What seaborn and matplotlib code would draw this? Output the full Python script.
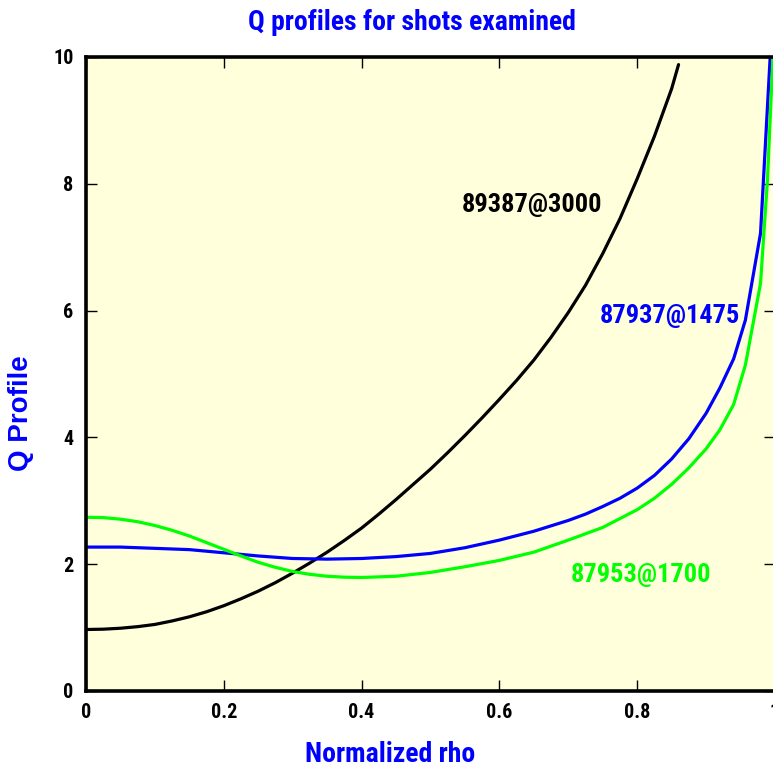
import matplotlib
matplotlib.use("Agg")
import matplotlib.pyplot as plt
from matplotlib import font_manager as fm
import seaborn as sns
import pandas as pd

# q-profile traces: normalized rho vs q
rho_89387 = [0.0, 0.025, 0.05, 0.075, 0.10, 0.125, 0.15, 0.175, 0.20, 0.225,
             0.25, 0.275, 0.30, 0.325, 0.35, 0.375, 0.40, 0.425, 0.45, 0.475,
             0.50, 0.525, 0.55, 0.575, 0.60, 0.625, 0.65, 0.675, 0.70, 0.725,
             0.75, 0.775, 0.80, 0.825, 0.85, 0.86]
q_89387 = [0.97, 0.975, 0.99, 1.015, 1.05, 1.105, 1.17, 1.25, 1.345, 1.455,
           1.575, 1.71, 1.86, 2.02, 2.19, 2.375, 2.57, 2.79, 3.02, 3.26,
           3.50, 3.76, 4.03, 4.31, 4.60, 4.90, 5.22, 5.58, 5.97, 6.40,
           6.90, 7.45, 8.08, 8.75, 9.50, 9.88]

rho_87937 = [0.0, 0.05, 0.10, 0.15, 0.20, 0.25, 0.30, 0.35, 0.40, 0.45, 0.50,
             0.55, 0.60, 0.65, 0.70, 0.725, 0.75, 0.775, 0.80, 0.825, 0.85,
             0.875, 0.90, 0.92, 0.94, 0.957, 0.979, 0.993]
q_87937 = [2.27, 2.27, 2.25, 2.23, 2.18, 2.13, 2.09, 2.08, 2.09, 2.12, 2.17,
           2.26, 2.38, 2.52, 2.69, 2.79, 2.91, 3.04, 3.20, 3.40, 3.66,
           3.98, 4.38, 4.78, 5.24, 5.85, 7.22, 10.0]

rho_87953 = [0.0, 0.025, 0.05, 0.075, 0.10, 0.125, 0.15, 0.175, 0.20, 0.225,
             0.25, 0.275, 0.30, 0.325, 0.35, 0.375, 0.40, 0.45, 0.50, 0.55,
             0.60, 0.65, 0.70, 0.75, 0.80, 0.825, 0.85, 0.875, 0.90, 0.92,
             0.94, 0.957, 0.979, 0.989, 0.997]
q_87953 = [2.74, 2.735, 2.71, 2.67, 2.61, 2.535, 2.445, 2.34, 2.235, 2.13,
           2.03, 1.95, 1.885, 1.84, 1.81, 1.795, 1.79, 1.81, 1.87, 1.96,
           2.06, 2.19, 2.38, 2.58, 2.86, 3.04, 3.26, 3.52, 3.82, 4.12,
           4.52, 5.14, 6.43, 8.05, 10.0]

shot_labels = ["89387@3000", "87937@1475", "87953@1700"]
label_x = [0.545, 0.745, 0.704]
label_y = [7.66, 5.91, 1.83]
shot_colors = ["#000000", "#0000ff", "#00ff00"]

x_ticks = [0, 0.2, 0.4, 0.6, 0.8, 1]
x_ticklabels = ["0", "0.2", "0.4", "0.6", "0.8", "1"]
y_ticks = [0, 2, 4, 6, 8, 10]

sns.set_theme(style="ticks")

# pick a narrow sans face if one is installed
installed = {f.name for f in fm.fontManager.ttflist}
narrow_family = None
for cand in ["Liberation Sans Narrow", "Arial Narrow", "Nimbus Sans Narrow",
             "Roboto Condensed", "Open Sans Condensed", "DejaVu Sans Condensed"]:
    if cand in installed:
        narrow_family = cand
        break
stretch = "normal"
if narrow_family is None:
    dv_cond = [f for f in fm.fontManager.ttflist
               if f.name == "DejaVu Sans" and str(f.stretch) in ("condensed", "semi-condensed")]
    if dv_cond:
        narrow_family = "DejaVu Sans"
        stretch = "condensed"
    else:
        narrow_family = "Liberation Sans"
narrow = [narrow_family, "DejaVu Sans"]
plt.rcParams["font.family"] = narrow
plt.rcParams["font.weight"] = "bold"
plt.rcParams["font.stretch"] = stretch

W, H = 773, 768
fig = plt.figure(figsize=(W / 100, H / 100), dpi=100)
ax = fig.add_axes([86 / W, (H - 691) / H, (775 - 86) / W, (691 - 57) / H])
ax.set_facecolor("#ffffdc")

series = [(rho_89387, q_89387), (rho_87937, q_87937), (rho_87953, q_87953)]
for (rho, q), col in zip(series, shot_colors):
    df = pd.DataFrame({"rho": rho, "q": q})
    sns.lineplot(data=df, x="rho", y="q", ax=ax, color=col, linewidth=2.3,
                 sort=False, estimator=None)

for txt, lx, ly, col in zip(shot_labels, label_x, label_y, shot_colors):
    ax.text(lx, ly, txt, color=col, fontsize=19, fontweight="bold",
            fontstretch=stretch, ha="left", va="center", family=narrow)

ax.set_xlim(0, 1)
ax.set_ylim(0, 10)
ax.set_xticks(x_ticks)
ax.set_xticklabels(x_ticklabels)
ax.set_yticks(y_ticks)
ax.tick_params(direction="in", length=8, width=1, top=True, right=True,
               labelsize=14.5, colors="black", pad=9)
for lab in ax.get_xticklabels() + ax.get_yticklabels():
    lab.set_fontweight("bold")
    lab.set_fontstretch(stretch)
for sp in ax.spines.values():
    sp.set_linewidth(2.6)
    sp.set_color("black")

ax.set_xlabel("")
ax.set_ylabel("")
fig.text(390 / W, 1 - 755 / H, "Normalized rho", color="#0000ff",
         fontsize=20, fontweight="bold", fontstretch=stretch,
         ha="center", va="center", family=narrow)
fig.text(21 / W, 1 - 413 / H, "Q Profile", color="#0000ff", fontsize=20,
         fontweight="bold", ha="center", va="center", rotation=90,
         family=["Liberation Sans", "DejaVu Sans"])
fig.text(412 / W, 1 - 22 / H, "Q profiles for shots examined", color="#0000ff",
         fontsize=20, fontweight="bold", fontstretch=stretch,
         ha="center", va="center", family=narrow)

fig.savefig("out.png", dpi=100)
